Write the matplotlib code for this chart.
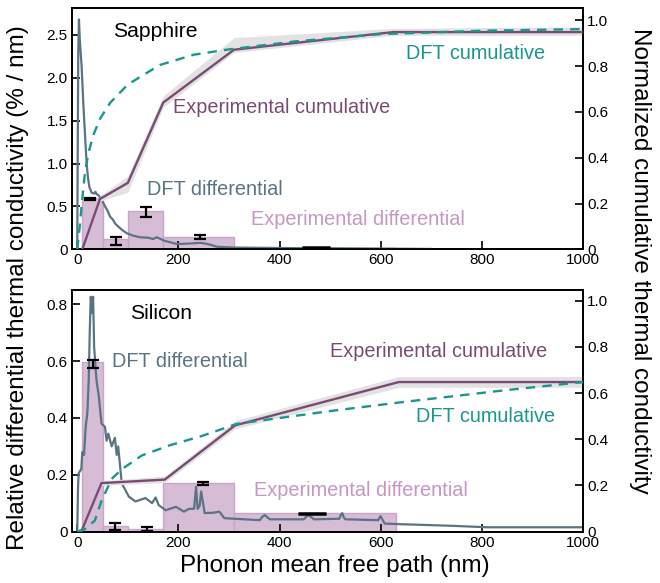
import matplotlib
matplotlib.use("Agg")
import matplotlib.pyplot as plt
import numpy as np

plt.rcParams['font.family'] = ['Liberation Sans', 'DejaVu Sans']

# ---------------- data ----------------
x_ticks = [0, 200, 400, 600, 800, 1000]
x_ticklabels = ["0", "200", "400", "600", "800", "1000"]
right_ticks = [0, 0.2, 0.4, 0.6, 0.8, 1.0]
right_ticklabels = ["0", "0.2", "0.4", "0.6", "0.8", "1.0"]
sap_left_ticks = [0, 0.5, 1.0, 1.5, 2.0, 2.5]
sap_left_ticklabels = ["0", "0.5", "1.0", "1.5", "2.0", "2.5"]
si_left_ticks = [0, 0.2, 0.4, 0.6, 0.8]
si_left_ticklabels = ["0", "0.2", "0.4", "0.6", "0.8"]

bin_edges = [10, 50, 100, 170, 310, 630]

# Sapphire
sap_bar_heights = [0.595, 0.117, 0.443, 0.147, 0.02]
sap_err_x = [26, 76, 136, 243]
sap_err_y = [0.585, 0.10, 0.435, 0.145]
sap_err_e = [0.012, 0.045, 0.055, 0.022]
sap_err2_x = [473]
sap_err2_y = [0.022]
sap_err2_e = [0.004]

sap_dft_diff_x = [0, 0.5, 2, 3.4, 5, 8.7, 12, 15.2, 18.6, 21, 23.8, 28.5, 33, 36, 38, 42, 45,
                  50, 55, 60, 65, 70, 75, 80, 85, 90, 98, 110, 124, 140, 150, 157, 165, 172,
                  185, 197, 215, 230, 243, 255, 265, 276, 290, 310, 350, 400, 450, 500, 600, 700]
sap_dft_diff_y = [0, 0.6, 2.3, 2.68, 2.45, 2.13, 1.7, 1.35, 1.0, 0.85, 0.73, 0.66, 0.65, 0.67, 0.645,
                  0.63, 0.61, 0.56, 0.5, 0.45, 0.38, 0.35, 0.30, 0.27, 0.245, 0.22, 0.187, 0.16,
                  0.14, 0.135, 0.12, 0.14, 0.12, 0.10, 0.08, 0.062, 0.065, 0.07, 0.075, 0.065,
                  0.05, 0.03, 0.025, 0.02, 0.018, 0.015, 0.012, 0.012, 0.008, 0.004]

sap_dft_cum_x = [0, 5, 9, 15, 22, 32, 45, 65, 100, 163, 230, 295, 430, 600, 800, 1000]
sap_dft_cum_y = [0, 0.10, 0.20, 0.33, 0.42, 0.50, 0.57, 0.64, 0.72, 0.805, 0.85, 0.872,
                 0.908, 0.94, 0.955, 0.962]

sap_exp_cum_x = [10, 45, 100, 170, 310, 625, 1000]
sap_exp_cum_y = [0.0, 0.22, 0.29, 0.641, 0.872, 0.949, 0.949]
sap_exp_cum_lo = [0.0, 0.21, 0.25, 0.62, 0.86, 0.935, 0.935]
sap_exp_cum_hi = [0.0, 0.235, 0.32, 0.67, 0.925, 0.965, 0.972]

# Silicon
si_bar_heights = [0.596, 0.02, 0.01, 0.17, 0.065]
si_err_x = [31, 75, 138, 249]
si_err_y = [0.59, 0.017, 0.008, 0.17]
si_err_e = [0.015, 0.012, 0.007, 0.005]
si_err2_x = [464]
si_err2_y = [0.065]
si_err2_e = [0.002]

si_dft_diff_x = [0, 1.5, 2.7, 8, 10, 13.4, 16.7, 20, 22.7, 24.7, 26.7, 29.4, 31.4, 33.4, 38,
                 42.8, 48, 54.8, 58, 61.5, 68, 74.5, 78, 81, 85, 88, 102, 115, 135, 148, 155,
                 161, 175, 195, 211, 221, 231, 235, 238, 242, 245, 252, 268, 281, 291, 361,
                 366, 371, 376, 381, 448, 453, 458, 463, 468, 518, 521, 524, 527, 530, 595,
                 598, 600, 604, 608, 636, 743, 810, 1000]
si_dft_diff_y = [0, 0.15, 0.205, 0.22, 0.28, 0.27, 0.37, 0.417, 0.534, 0.70, 0.827, 0.77,
                 0.827, 0.65, 0.534, 0.475, 0.38, 0.369, 0.32, 0.345, 0.30, 0.33, 0.27, 0.30,
                 0.225, 0.17, 0.123, 0.106, 0.118, 0.10, 0.12, 0.093, 0.075, 0.087, 0.07, 0.08,
                 0.08, 0.158, 0.08, 0.09, 0.141, 0.065, 0.066, 0.07, 0.047, 0.04, 0.052, 0.058,
                 0.05, 0.043, 0.043, 0.052, 0.058, 0.05, 0.043, 0.045, 0.058, 0.065, 0.05, 0.043,
                 0.04, 0.05, 0.054, 0.04, 0.028, 0.026, 0.02, 0.015, 0.015]

si_dft_cum_x = [0, 14.7, 34.7, 48, 68, 88, 128, 182, 249, 316, 510, 643, 844, 1000]
si_dft_cum_y = [0, 0.01, 0.047, 0.133, 0.228, 0.27, 0.33, 0.373, 0.416, 0.467, 0.525,
                0.561, 0.612, 0.648]

si_exp_cum_x = [8, 48, 173, 312, 636, 1000]
si_exp_cum_y = [0.0, 0.21, 0.225, 0.46, 0.648, 0.648]
si_exp_cum_lo = [0.0, 0.20, 0.212, 0.445, 0.625, 0.625]
si_exp_cum_hi = [0.0, 0.22, 0.24, 0.48, 0.672, 0.672]

# ---------------- style ----------------
C_SLATE = "#5b7483"
C_TEAL = "#1a978c"
C_PURPLE = "#7a4b72"
C_BAR = "#d6bcd5"
C_BAR_EDGE = "#c9a5c6"
C_BAR_TEXT = "#c697c3"
C_BAND = "#e2e2e2"
FS_ANN = 14.3
FS_TITLE = 15.2
FS_TICK = 11
FS_LABEL = 17.5

fig = plt.figure(figsize=(6.6, 5.83), dpi=100)

ax_top = fig.add_axes([0.1086, 0.5724, 0.7747, 0.4134])
ax_bot = fig.add_axes([0.1086, 0.0883, 0.7747, 0.4143])


def draw_panel(ax, bar_h, err, err2, dft_x, dft_y, cum_x, cum_y, lo, hi, exp_x, exp_y,
               left_ylim, right_ylim, lticks, lticklabels):
    widths = np.diff(bin_edges)
    ax.bar(bin_edges[:-1], bar_h, width=widths, align='edge', color=C_BAR,
           edgecolor=C_BAR_EDGE, linewidth=1.0, zorder=1)
    ax.plot(dft_x, dft_y, color=C_SLATE, lw=1.6, zorder=3)
    ex, ey, ee = err
    ax.errorbar(ex, ey, yerr=ee, fmt='none', ecolor='black', elinewidth=1.6,
                capsize=4.5, capthick=1.6, zorder=4)
    ex2, ey2, ee2 = err2
    ax.errorbar(ex2, ey2, yerr=ee2, fmt='none', ecolor='black', elinewidth=1.6,
                capsize=10, capthick=1.8, zorder=4)
    ax.set_xlim(-11, 1000)
    ax.set_ylim(*left_ylim)
    ax.set_xticks(x_ticks)
    ax.set_xticklabels(x_ticklabels)
    ax.set_yticks(lticks)
    ax.set_yticklabels(lticklabels)
    ax.tick_params(direction='in', length=6, width=1.2, labelsize=FS_TICK, pad=3)
    for s in ax.spines.values():
        s.set_linewidth(1.3)

    axr = ax.twinx()
    axr.fill_between(exp_x, lo, hi, color=C_BAND, lw=0, zorder=1)
    axr.plot(exp_x, exp_y, color=C_PURPLE, lw=1.7, zorder=3)
    axr.plot(cum_x, cum_y, color=C_TEAL, lw=1.7, ls=(0, (4, 3)), zorder=3)
    axr.set_ylim(*right_ylim)
    axr.set_yticks(right_ticks)
    axr.set_yticklabels(right_ticklabels)
    axr.tick_params(direction='in', length=6, width=1.2, labelsize=FS_TICK, pad=3)
    for s in axr.spines.values():
        s.set_linewidth(1.3)
    return axr


axr_top = draw_panel(ax_top, sap_bar_heights, (sap_err_x, sap_err_y, sap_err_e),
                     (sap_err2_x, sap_err2_y, sap_err2_e),
                     sap_dft_diff_x, sap_dft_diff_y, sap_dft_cum_x, sap_dft_cum_y,
                     sap_exp_cum_lo, sap_exp_cum_hi, sap_exp_cum_x, sap_exp_cum_y,
                     (0, 2.81), (0, 1.053), sap_left_ticks, sap_left_ticklabels)
axr_bot = draw_panel(ax_bot, si_bar_heights, (si_err_x, si_err_y, si_err_e),
                     (si_err2_x, si_err2_y, si_err2_e),
                     si_dft_diff_x, si_dft_diff_y, si_dft_cum_x, si_dft_cum_y,
                     si_exp_cum_lo, si_exp_cum_hi, si_exp_cum_x, si_exp_cum_y,
                     (0, 0.851), (0, 1.047), si_left_ticks, si_left_ticklabels)

# annotations (top)
axr_top.text(71, 2.54 / 2.81 * 1.053, "Sapphire", fontsize=FS_TITLE, color='black', va='center')
axr_top.text(651, 2.287 / 2.81 * 1.053, "DFT cumulative", fontsize=FS_ANN, color=C_TEAL, va='center')
axr_top.text(189, 1.657 / 2.81 * 1.053, "Experimental cumulative", fontsize=FS_ANN, color=C_PURPLE, va='center')
axr_top.text(138, 0.692 / 2.81 * 1.053, "DFT differential", fontsize=FS_ANN, color=C_SLATE, va='center')
axr_top.text(343, 0.342 / 2.81 * 1.053, "Experimental differential", fontsize=FS_ANN, color=C_BAR_TEXT, va='center')

# annotations (bottom)
axr_bot.text(104, 0.769 / 0.851 * 1.047, "Silicon", fontsize=FS_TITLE, color='black', va='center')
axr_bot.text(68, 0.599 / 0.851 * 1.047, "DFT differential", fontsize=FS_ANN, color=C_SLATE, va='center')
axr_bot.text(500, 0.634 / 0.851 * 1.047, "Experimental cumulative", fontsize=FS_ANN, color=C_PURPLE, va='center')
axr_bot.text(670, 0.405 / 0.851 * 1.047, "DFT cumulative", fontsize=FS_ANN, color=C_TEAL, va='center')
axr_bot.text(350, 0.144 / 0.851 * 1.047, "Experimental differential", fontsize=FS_ANN, color=C_BAR_TEXT, va='center')

fig.text(0.027, 0.506, "Relative differential thermal conductivity (% / nm)",
         rotation=90, fontsize=FS_LABEL, ha='center', va='center')
fig.text(0.970, 0.553, "Normalized cumulative thermal conductivity",
         rotation=-90, fontsize=FS_LABEL, ha='center', va='center')
fig.text(0.508, 0.029, "Phonon mean free path (nm)", fontsize=FS_LABEL, ha='center', va='center')

fig.savefig("out.png", dpi=100)
